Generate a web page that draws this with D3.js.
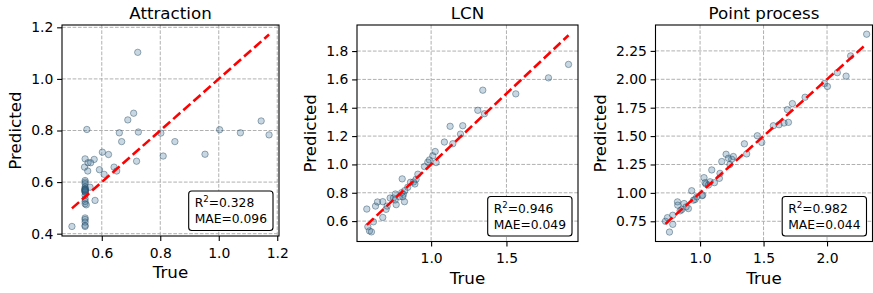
<!DOCTYPE html>
<html>
<head>
<meta charset="utf-8">
<script src="https://cdn.jsdelivr.net/npm/d3@7"></script>
<style>
  body { margin: 0; background: #fff; }
  svg { font-family: "DejaVu Sans", sans-serif; }
</style>
</head>
<body>
<script>
// data
var titles = ["Attraction", "LCN", "Point process"];
var r2Labels = ["0.328", "0.946", "0.982"];
var maeLabels = ["0.096", "0.049", "0.044"];

var attrTrue = [0.498, 0.723, 0.549, 0.543, 0.541, 0.553, 0.562, 0.574, 0.552, 0.602,
  0.623, 0.592, 0.608, 0.642, 0.651, 0.660, 0.668, 0.689, 0.709, 0.725,
  0.719, 0.802, 0.810, 0.850, 0.953, 1.003, 1.074, 1.145, 1.172, 0.577,
  0.547, 0.543, 0.543, 0.543, 0.543, 0.543, 0.543, 0.543, 0.543, 0.543,
  0.543, 0.543, 0.543, 0.543, 0.543, 0.543, 0.543, 0.543, 0.543, 0.543,
  0.543, 0.543, 0.543, 0.560];
var attrPred = [0.428, 1.103, 0.804, 0.690, 0.658, 0.675, 0.675, 0.688, 0.643, 0.716,
  0.707, 0.648, 0.630, 0.658, 0.643, 0.791, 0.757, 0.841, 0.867, 0.794,
  0.681, 0.790, 0.701, 0.757, 0.708, 0.803, 0.791, 0.837, 0.783, 0.529,
  0.512, 0.606, 0.600, 0.594, 0.581, 0.575, 0.572, 0.570, 0.568, 0.565,
  0.562, 0.561, 0.549, 0.535, 0.525, 0.516, 0.573, 0.567, 0.461, 0.455,
  0.445, 0.432, 0.428, 0.580];

var lcnTrue = [0.573, 0.580, 0.591, 0.604, 0.617, 0.631, 0.644, 0.679, 0.679, 0.701,
  0.708, 0.728, 0.750, 0.763, 0.768, 0.790, 0.805, 0.808, 0.816, 0.823,
  0.825, 0.845, 0.863, 0.883, 0.892, 0.900, 0.912, 0.956, 0.978, 0.989,
  1.011, 1.027, 1.033, 1.088, 1.126, 1.144, 1.195, 1.210, 1.310, 1.343,
  1.354, 1.562, 1.779, 1.912, 0.761, 0.812];
var lcnPred = [0.685, 0.560, 0.531, 0.524, 0.595, 0.706, 0.735, 0.737, 0.626, 0.683,
  0.706, 0.763, 0.763, 0.791, 0.716, 0.772, 0.801, 0.898, 0.789, 0.737,
  0.815, 0.839, 0.874, 0.876, 0.862, 0.895, 0.931, 0.985, 1.016, 1.032,
  1.061, 1.091, 1.013, 1.158, 1.269, 1.146, 1.214, 1.273, 1.382, 1.524,
  1.358, 1.498, 1.611, 1.706, 0.749, 0.772];

var ppTrue = [0.727, 0.743, 0.759, 0.785, 0.785, 0.822, 0.824, 0.856, 0.874, 0.908,
  0.934, 0.948, 0.961, 1.021, 1.031, 1.039, 1.047, 1.066, 1.092, 1.113,
  1.152, 1.171, 1.205, 1.223, 1.249, 1.262, 1.349, 1.367, 1.451, 1.486,
  1.577, 1.622, 1.661, 1.696, 1.688, 1.727, 1.827, 1.979, 2.003, 2.081,
  2.150, 2.186, 2.312, 0.843, 0.890, 0.974, 1.079, 1.157, 1.015, 1.235];
var ppPred = [0.750, 0.782, 0.655, 0.803, 0.723, 0.921, 0.892, 0.853, 0.906, 0.862,
  1.019, 0.936, 0.942, 0.980, 1.134, 1.090, 1.078, 1.069, 1.202, 1.090,
  1.128, 1.276, 1.340, 1.305, 1.296, 1.320, 1.432, 1.343, 1.503, 1.444,
  1.591, 1.600, 1.615, 1.621, 1.733, 1.786, 1.842, 1.963, 1.937, 2.058,
  2.028, 2.206, 2.397, 0.842, 0.877, 0.965, 1.098, 1.172, 0.975, 1.250];

var xTickValues = [[0.6, 0.8, 1.0, 1.2], [1.0, 1.5], [1.0, 1.5, 2.0]];
var yTickValues = [[0.4, 0.6, 0.8, 1.0, 1.2], [0.6, 0.8, 1.0, 1.2, 1.4, 1.6, 1.8],
  [0.75, 1.0, 1.25, 1.5, 1.75, 2.0, 2.25]];
var yTickDigits = [1, 1, 2];
var xLimits = [[0.464, 1.206], [0.508, 1.975], [0.649, 2.358]];
var yLimits = [[0.391, 1.209], [0.456, 1.984], [0.572, 2.478]];

var trueSets = [attrTrue, lcnTrue, ppTrue];
var predSets = [attrPred, lcnPred, ppPred];

// layout
var width = 873, height = 293;
var frames = [
  {left: 62, right: 279, top: 25, bottom: 236},
  {left: 357, right: 578, top: 25, bottom: 241.5},
  {left: 655.5, right: 872.5, top: 25, bottom: 241.5}
];

var svg = d3.select("body").append("svg").attr("width", width).attr("height", height);

titles.forEach(function(title, i) {
  var f = frames[i];
  var x = d3.scaleLinear().domain(xLimits[i]).range([f.left, f.right]);
  var y = d3.scaleLinear().domain(yLimits[i]).range([f.bottom, f.top]);
  var g = svg.append("g");

  // grid
  g.append("g").selectAll("line").data(xTickValues[i]).enter().append("line")
    .attr("x1", function(d){ return x(d); }).attr("x2", function(d){ return x(d); })
    .attr("y1", f.top).attr("y2", f.bottom)
    .attr("stroke", "#b0b0b0").attr("stroke-width", 1).attr("stroke-dasharray", "3.7,1.6");
  g.append("g").selectAll("line").data(yTickValues[i]).enter().append("line")
    .attr("y1", function(d){ return y(d); }).attr("y2", function(d){ return y(d); })
    .attr("x1", f.left).attr("x2", f.right)
    .attr("stroke", "#b0b0b0").attr("stroke-width", 1).attr("stroke-dasharray", "3.7,1.6");

  // points
  var pts = trueSets[i].map(function(t, k){ return [t, predSets[i][k]]; });
  g.append("g").selectAll("circle").data(pts).enter().append("circle")
    .attr("cx", function(d){ return x(d[0]); })
    .attr("cy", function(d){ return y(d[1]); })
    .attr("r", 3.2)
    .attr("fill", "#3b6e94").attr("fill-opacity", 0.28)
    .attr("stroke", "#2a4d66").attr("stroke-opacity", 0.45).attr("stroke-width", 1);

  // identity line
  var ext = d3.extent(trueSets[i]);
  g.append("line")
    .attr("x1", x(ext[0])).attr("y1", y(ext[0]))
    .attr("x2", x(ext[1])).attr("y2", y(ext[1]))
    .attr("stroke", "red").attr("stroke-width", 2.6).attr("stroke-dasharray", "9.5,4");

  // axes
  var xa = g.append("g").attr("transform", "translate(0," + f.bottom + ")")
    .call(d3.axisBottom(x).tickValues(xTickValues[i]).tickSize(4.9).tickPadding(6.8)
      .tickFormat(d3.format(".1f")));
  var ya = g.append("g").attr("transform", "translate(" + f.left + ",0)")
    .call(d3.axisLeft(y).tickValues(yTickValues[i]).tickSize(4.9).tickPadding(3.8)
      .tickFormat(d3.format("." + yTickDigits[i] + "f")));
  [xa, ya].forEach(function(a){
    a.select(".domain").remove();
    a.selectAll("line").attr("stroke", "#000").attr("stroke-width", 1.1);
    a.selectAll("text").attr("font-size", 13.9).attr("fill", "#000")
      .attr("font-family", "DejaVu Sans");
  });

  // frame
  g.append("rect").attr("x", f.left).attr("y", f.top)
    .attr("width", f.right - f.left).attr("height", f.bottom - f.top)
    .attr("fill", "none").attr("stroke", "#000").attr("stroke-width", 1.1);

  // title and labels
  g.append("text").attr("x", (f.left + f.right) / 2).attr("y", 18.5)
    .attr("text-anchor", "middle").attr("font-size", 16.7).text(title);
  g.append("text").attr("x", (f.left + f.right) / 2).attr("y", f.bottom + 42)
    .attr("text-anchor", "middle").attr("font-size", 16.7).text("True");
  var tickLeft = f.left + ya.node().getBBox().x;
  g.append("text")
    .attr("transform", "translate(" + (tickLeft - 10) + "," + ((f.top + f.bottom) / 2) + ") rotate(-90)")
    .attr("text-anchor", "middle").attr("font-size", 16.7).text("Predicted");

  // stats box
  var box = g.append("g");
  var t1 = box.append("text").attr("font-size", 12.3);
  t1.append("tspan").text("R");
  t1.append("tspan").attr("font-size", 8.6).attr("dy", -5).text("2");
  t1.append("tspan").attr("dy", 5).text("=" + r2Labels[i]);
  var t2 = box.append("text").attr("font-size", 12.3).text("MAE=" + maeLabels[i]);
  var tw = Math.max(t1.node().getComputedTextLength(), t2.node().getComputedTextLength());
  var bw = tw + 12, bh = 39.5;
  var bx = f.right - 6 - bw, by = f.bottom - 5.5 - bh;
  box.insert("rect", "text").attr("x", bx).attr("y", by).attr("width", bw).attr("height", bh)
    .attr("rx", 3).attr("fill", "#fff").attr("stroke", "#000").attr("stroke-width", 1.1);
  t1.attr("x", bx + 6).attr("y", by + 16);
  t1.select("tspan").attr("x", bx + 6);
  t2.attr("x", bx + 6).attr("y", by + 32);
});
</script>
</body>
</html>
